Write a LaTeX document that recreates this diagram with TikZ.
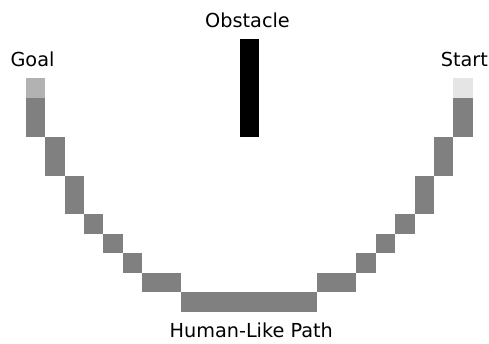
\documentclass[tikz,border=0pt]{standalone}
\usepackage{fontspec}
\setmainfont{DejaVu Sans}
\begin{document}
\begin{tikzpicture}[x=0.5cm, y=0.5cm,
  cell/.style={fill=black!50},
  lbl/.style={anchor=base, font=\fontsize{14.1}{17}\selectfont}]
\useasboundingbox (-1.32,-13.62) rectangle (23.83,4.03);
% end points
\fill[black!30] (0,0) rectangle ++(1,-1);
\fill[black!10] (22,0) rectangle ++(1,-1);
% path cells
\foreach \c/\r in {0/1,0/2,1/3,1/4,2/5,2/6,3/7,4/8,5/9,6/10,7/10,
  8/11,9/11,10/11,11/11,12/11,13/11,14/11,
  15/10,16/10,17/9,18/8,19/7,20/5,20/6,21/3,21/4,22/1,22/2}
  \fill[cell] (\c,-\r) rectangle ++(1,-1);
% obstacle
\fill[black] (11,2) rectangle (12,-3);
% labels
\node[lbl] (goal) at (0.35,0.63) {Goal};
\node[lbl] (start) at (22.56,0.63) {Start};
\node[lbl] (obstacle) at (11.41,2.62) {Obstacle};
\node[lbl] (path) at (11.6,-13.32) {Human-Like Path};
\end{tikzpicture}
\end{document}
